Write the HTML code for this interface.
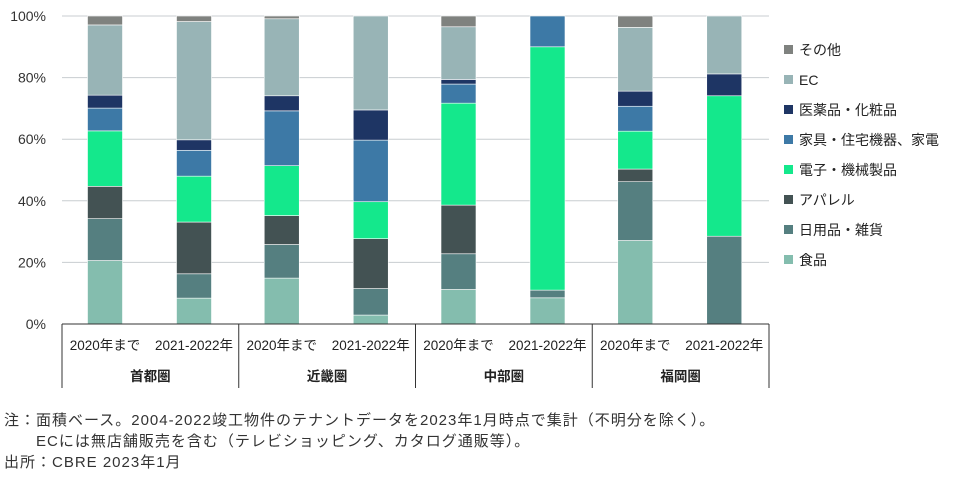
<!DOCTYPE html>
<html><head><meta charset="utf-8"><style>
body{margin:0;background:#fff;font-family:"Liberation Sans","Noto Sans CJK JP",sans-serif;}
#wrap{position:relative;width:970px;height:478px;overflow:hidden;}
.note{position:absolute;font-size:15px;letter-spacing:1px;color:#333;white-space:nowrap;}
</style></head><body>
<div id="wrap">
<svg id="chart" width="970" height="478"></svg>
<div class="note" style="left:4px;top:409px">注：面積ベース。2004-2022竣工物件のテナントデータを2023年1月時点で集計（不明分を除く）。</div>
<div class="note" style="left:36px;top:430px">ECには無店舗販売を含む（テレビショッピング、カタログ通販等）。</div>
<div class="note" style="left:4px;top:451px">出所：CBRE 2023年1月</div>
</div>
<script>
const regions=["首都圏","近畿圏","中部圏","福岡圏"];
const periods=["2020年まで","2021-2022年"];
const seriesNames=["食品","日用品・雑貨","アパレル","電子・機械製品","家具・住宅機器、家電","医薬品・化粧品","EC","その他"];
const food=[20.6,8.4,14.9,2.9,11.2,8.5,27.1,0];
const daily=[13.6,7.9,10.9,8.6,11.6,2.5,19.1,28.5];
const apparel=[10.5,16.8,9.4,16.2,15.8,0,4.1,0];
const electronics=[18.0,14.9,16.2,12.0,33.1,79.0,12.3,45.6];
const furniture=[7.4,8.4,17.8,20.0,6.2,10.0,8.1,0];
const medical=[4.2,3.4,4.9,9.8,1.5,0,4.9,7.1];
const ec=[22.8,38.4,25.0,30.5,17.1,0,20.7,18.8];
const other=[2.9,1.8,0.9,0,3.5,0,3.7,0];
const yTicks=[0,20,40,60,80,100];
const series=[food,daily,apparel,electronics,furniture,medical,ec,other];
const colors=["#84bdae","#557f80","#435253","#14e88c","#3d79a6","#1e3564","#98b4b6","#7f827f"];
const NS="http://www.w3.org/2000/svg";
const svg=document.getElementById("chart");
const X0=62,X1=769,Y0=324,Y1=16;
const gw=(X1-X0)/regions.length, bw=35;
const y=v=>Y0-(v/100)*(Y0-Y1);
const xc=i=>X0+gw*Math.floor(i/2)+(i%2===0?43:132);
function mk(t,a){const e=document.createElementNS(NS,t);for(const k in a)e.setAttribute(k,a[k]);svg.appendChild(e);return e;}
yTicks.forEach(t=>{
 const l=mk("line",{x1:X0,x2:X1,y1:y(t),y2:y(t),stroke:"#c8cdd0","stroke-width":1});
 
 
 const tx=mk("text",{x:46,y:y(t)+5,"text-anchor":"end","font-size":14,fill:"#333"});
 tx.textContent=t+"%";
 
 
});
for(let i=0;i<food.length;i++){
 let acc=0;
 series.forEach((s,k)=>{
  const v=s[i]; if(v<=0){return;}
  const r=mk("rect",{x:xc(i)-bw/2,y:y(acc+v),width:bw,height:y(acc)-y(acc+v),fill:colors[k],stroke:"#fff","stroke-width":0.6});
  
  
  acc+=v;
 });
}
const ax=mk("line",{x1:X0,x2:X1,y1:Y0,y2:Y0,stroke:"#333","stroke-width":1});


for(let g=0;g<=regions.length;g++){
 const xx=X0+gw*g;
 const l=mk("line",{x1:xx,x2:xx,y1:Y0,y2:388,stroke:"#333","stroke-width":1});
 
 
}
for(let i=0;i<food.length;i++){
 const t=mk("text",{x:xc(i),y:350,"text-anchor":"middle","font-size":13.5,fill:"#222"});
 t.textContent=periods[i%2];
 
 
}
regions.forEach((r,g)=>{
 const t=mk("text",{x:X0+gw*g+gw/2,y:381,"text-anchor":"middle","font-size":13.5,fill:"#222","font-weight":"bold"});
 t.textContent=r;
 
 
});
for(let k=seriesNames.length-1,row=0;k>=0;k--,row++){
 const yy=50+row*30;
 const m=mk("rect",{x:784,y:yy-5,width:9,height:9,fill:colors[k]});
 
 
 const t=mk("text",{x:799,y:yy+5,"font-size":14,fill:"#222"});
 t.textContent=seriesNames[k];
 
 
}
</script>
</body></html>
